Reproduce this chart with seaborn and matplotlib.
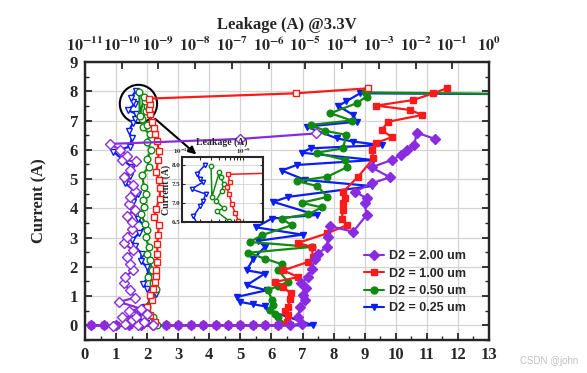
import matplotlib
matplotlib.use("Agg")
import matplotlib.pyplot as plt
import seaborn as sns
import numpy as np
from matplotlib.patches import Ellipse
from matplotlib.lines import Line2D
from matplotlib.ticker import MultipleLocator, LogLocator, NullFormatter

# ---- data -------------------------------------------------------------
# baseline sweep points (voltage, current ~0) shared by the devices
base_v = [0.2, 0.6, 1.0, 1.4, 1.8, 2.2, 2.6, 3.0, 3.4, 3.8, 4.2, 4.6, 5.0, 5.4, 5.8, 6.2]
base_i = [0.0, 0.0, 0.0, 0.0, 0.0, 0.0, 0.0, 0.0, 0.0, 0.0, 0.0, 0.0, 0.0, 0.0, 0.0, 0.0]

# I-V (bottom axis, filled markers)
purple_v = base_v + [6.6, 6.97, 6.86, 6.92, 7.08, 7.02, 7.12, 6.95, 7.19, 7.29, 7.40, 7.50, 7.78, 7.83,
                     7.88, 8.63, 9.06, 9.00, 9.06, 8.69, 9.22, 9.81, 9.22, 9.87, 10.17, 10.37, 10.60,
                     10.67, 11.26]
purple_i = base_i + [0.0, 0.06, 0.28, 0.63, 0.86, 1.05, 1.26, 1.45, 1.65, 1.94, 2.28, 2.45, 2.68, 3.02,
                     3.39, 3.20, 3.77, 4.17, 4.34, 4.57, 4.85, 5.06, 5.40, 5.65, 5.82, 5.99, 6.16,
                     6.59, 6.37]

red_v = base_v + [6.49, 6.52, 6.45, 6.54, 6.60, 6.62, 6.37, 6.11, 6.86, 6.38, 7.19, 7.34, 7.29, 6.86,
                  7.78, 8.42, 8.26, 8.31, 8.31, 8.37, 8.31, 8.79, 9.28, 9.22, 9.38, 9.87, 9.55, 9.76,
                  10.86, 10.46, 9.38, 10.56, 11.21, 11.64]
red_i = base_i + [0.10, 0.35, 0.50, 0.63, 0.90, 1.09, 1.31, 1.48, 1.65, 1.88, 2.17, 2.34, 2.68, 2.82,
                  3.14, 3.42, 3.65, 3.94, 4.17, 4.35, 4.57, 5.08, 5.71, 5.99, 6.24, 6.43, 6.68, 6.96,
                  7.19, 7.36, 7.51, 7.70, 7.93, 8.10]

green_v = base_v + [6.27, 6.22, 6.10, 5.95, 6.05, 6.01, 5.90, 6.20, 6.54, 6.22, 6.33, 5.79, 5.25, 7.29,
                    5.31, 5.69, 6.65, 6.33, 7.19, 7.62, 6.97, 7.80, 7.48, 6.81, 7.80, 8.42, 8.37, 7.45,
                    8.31, 8.40, 7.72, 7.26, 8.58, 7.90, 8.74, 9.06, 9.01, 14.0]
green_i = base_i + [0.07, 0.28, 0.40, 0.51, 0.70, 0.86, 1.20, 1.35, 1.48, 1.88, 2.09, 2.28, 2.48, 2.68,
                    2.85, 3.08, 3.42, 3.65, 3.80, 4.03, 4.19, 4.39, 4.76, 4.93, 5.08, 5.40, 5.65, 5.90,
                    6.05, 6.51, 6.65, 6.85, 7.00, 7.25, 7.59, 7.82, 7.96, 7.90]

blue_v = base_v + [6.6, 7.0, 7.35, 5.90, 5.79, 5.42, 4.99, 4.88, 5.85, 5.20, 5.79, 5.20, 5.42, 5.79,
                   5.58, 7.00, 5.50, 6.01, 7.45, 6.06, 6.54, 9.22, 7.08, 6.33, 6.81, 9.28, 6.97, 7.26,
                   9.55, 8.63, 8.10, 7.13, 8.74, 8.63, 8.15, 8.40, 8.85, 14.0]
blue_i = base_i + [0.0, 0.0, 0.0, 0.51, 0.65, 0.72, 0.80, 0.97, 1.20, 1.37, 1.77, 1.88, 2.28, 2.68,
                   2.89, 3.10, 3.35, 3.65, 3.77, 4.22, 4.39, 4.76, 4.97, 5.29, 5.48, 5.65, 5.90, 6.05,
                   6.16, 6.28, 6.39, 6.79, 6.96, 7.19, 7.50, 7.65, 7.93, 7.90]

# leakage @3.3V after each pulse (top log axis, open markers)
purple_leak_i = [-0.02, 0.05, 0.00, 0.02, 0.12, 0.18, 0.30, 0.28, 0.40, 0.50, 0.57, 0.80, 0.95, 1.20,
                 1.45, 1.65, 1.90, 2.11, 2.35, 2.57, 2.80, 3.02, 3.30, 3.54, 3.75, 3.94, 4.15, 4.39,
                 4.60, 4.80, 5.08, 5.30, 5.60, 5.65, 5.80, 6.00, 6.20, 6.37, 6.56]
purple_leak_a = [5.9e-11, 1.26e-10, 2.74e-10, 7.27e-10, 4.05e-10, 1.86e-10, 1.03e-10, 2.49e-10, 4.92e-10,
                 1.53e-10, 3.33e-10, 8.5e-11, 2.26e-10, 1.69e-10, 1.14e-10, 1.26e-10, 2.05e-10, 1.69e-10,
                 1.39e-10, 2.05e-10, 1.14e-10, 1.39e-10, 1.86e-10, 1.86e-10, 1.39e-10, 2.26e-10, 1.53e-10,
                 1.69e-10, 2.26e-10, 2.05e-10, 1.14e-10, 1.69e-10, 2.49e-10, 1.03e-10, 1.39e-10, 8.9e-11,
                 4.75e-11, 1.66e-7, 2.0e-5]

red_leak_i = [0.11, 0.35, 0.63, 0.85, 1.03, 1.25, 1.48, 1.68, 1.88, 2.17, 2.45, 2.79, 3.08, 3.42, 3.70,
              3.98, 4.33, 4.68, 4.96, 5.25, 5.65, 5.95, 6.30, 6.53, 6.73, 6.96, 7.23, 7.41, 7.55, 7.75,
              7.93, 8.10]
red_leak_a = [8.0e-10, 6.0e-10, 4.9e-10, 6.6e-10, 6.0e-10, 7.3e-10, 8.0e-10, 8.8e-10, 8.5e-10, 9.3e-10,
              9.3e-10, 9.3e-10, 9.7e-10, 1.03e-9, 7.8e-10, 8.5e-10, 1.09e-9, 1.09e-9, 1.03e-9, 8.8e-10,
              9.7e-10, 1.03e-9, 9.2e-10, 8.3e-10, 7.4e-10, 6.5e-10, 5.9e-10, 5.4e-10, 6.0e-10, 5.7e-10,
              5.5e-6, 5.0e-4]

green_leak_i = [0.00, 0.30, 0.63, 0.97, 1.25, 1.45, 1.65, 1.90, 2.22, 2.45, 2.68, 3.02, 3.25, 3.48, 3.82,
                4.05, 4.27, 4.50, 4.73, 5.13, 5.42, 5.70, 5.99, 6.25, 6.53, 6.77, 6.86, 7.05, 7.32, 7.50,
                7.68, 7.82, 7.15, 7.97]
green_leak_a = [9.3e-10, 7.3e-10, 4.9e-10, 6.4e-10, 8.8e-10, 7.3e-10, 5.3e-10, 6.6e-10, 6.0e-10, 4.9e-10,
                5.4e-10, 4.5e-10, 4.9e-10, 4.3e-10, 3.3e-10, 4.05e-10, 3.7e-10, 4.5e-10, 4.05e-10, 3.6e-10,
                5.4e-10, 4.9e-10, 6.4e-10, 4.9e-10, 5.8e-10, 3.7e-10, 4.8e-10, 3.6e-10, 4.5e-10, 4.8e-10,
                4.3e-10, 4.1e-10, 3.1e-10, 3.0e-10]

blue_leak_i = [0.07, 0.30, 0.63, 0.85, 1.08, 1.25, 1.42, 1.70, 1.99, 2.20, 2.45, 2.70, 2.90, 3.15, 3.37,
               3.65, 3.94, 4.20, 4.50, 4.85, 5.10, 5.42, 5.65, 5.94, 6.11, 6.40, 6.64, 6.91, 7.05, 7.23,
               7.36, 7.55, 7.64, 7.77, 8.00]
blue_leak_a = [4.5e-10, 2.7e-10, 4.3e-10, 6.0e-10, 8.8e-10, 4.9e-10, 3.9e-10, 5.4e-10, 4.9e-10, 3.3e-10,
               3.5e-10, 2.3e-10, 1.86e-10, 3.0e-10, 4.3e-10, 2.7e-10, 1.86e-10, 2.05e-10, 2.8e-10, 1.26e-10,
               1.69e-10, 1.86e-10, 1.1e-10, 5.9e-11, 1.69e-10, 1.86e-10, 1.55e-10, 2.0e-10, 2.24e-10, 2.45e-10,
               1.45e-10, 2.24e-10, 2.0e-10, 1.78e-10, 2.4e-10]

labels = ["D2 = 2.00 um", "D2 = 1.00 um", "D2 = 0.50 um", "D2 = 0.25 um"]
colors = ["#8A2BE2", "#FF1A1A", "#108A10", "#0A1EF5"]
markers = ["D", "s", "o", "v"]
top_exps = [-11, -10, -9, -8, -7, -6, -5, -4, -3, -2, -1, 0]

# ---- style ------------------------------------------------------------
sns.set_style("ticks")
plt.rcParams["font.family"] = ["Liberation Serif", "DejaVu Serif"]
plt.rcParams["font.weight"] = "bold"
plt.rcParams["axes.labelweight"] = "bold"
plt.rcParams["mathtext.fontset"] = "stix"
plt.rcParams["axes.linewidth"] = 1.6

fig = plt.figure(figsize=(5.87, 3.73), dpi=100)
ax = fig.add_axes([0.1448, 0.0885, 0.833 - 0.1448, 0.8338 - 0.0885])
ax2 = ax.twiny()
ax2.set_xscale("log")


def draw(axis, x, y, color, marker, filled, ms=4.8, lw=1.6):
    sns.lineplot(x=x, y=y, sort=False, estimator=None, color=color, marker=marker,
                 markersize=ms, mec=color, mfc=color if filled else "white", mew=1.0,
                 lw=lw, ax=axis, legend=False)


iv = [(purple_v, purple_i), (red_v, red_i), (green_v, green_i), (blue_v, blue_i)]
lk = [(purple_leak_a, purple_leak_i), (red_leak_a, red_leak_i),
      (green_leak_a, green_leak_i), (blue_leak_a, blue_leak_i)]

for k in [3, 2, 1, 0]:
    draw(ax, iv[k][0], iv[k][1], colors[k], markers[k], True)
for k in [3, 2, 1, 0]:
    draw(ax2, lk[k][0], lk[k][1], colors[k], markers[k], False)

# bottom / left axes
ax.set_xlim(0, 13)
ax.set_ylim(-0.5, 9)
ax.xaxis.set_major_locator(MultipleLocator(1))
ax.xaxis.set_minor_locator(MultipleLocator(0.5))
ax.yaxis.set_major_locator(MultipleLocator(1))
ax.yaxis.set_minor_locator(MultipleLocator(0.5))
ax.grid(True, color="#D4D4D4", lw=0.9)
ax.set_axisbelow(True)
ax.tick_params(which="both", direction="in", top=False, right=True, labelsize=12, pad=5)
ax.tick_params(which="major", length=5, width=1.3)
ax.tick_params(which="minor", length=3, width=1.0)
ax.set_ylabel("Current (A)", fontsize=12, labelpad=16)
ax.set_xlabel("")

# top log axis
ax2.set_xlim(1e-11, 1)
ax2.xaxis.set_major_locator(LogLocator(base=10, numticks=20))
ax2.xaxis.set_minor_locator(LogLocator(base=10, subs="auto", numticks=20))
ax2.xaxis.set_minor_formatter(NullFormatter())
ax2.set_xticks([10.0 ** e for e in top_exps])
ax2.set_xticklabels([r"$\mathbf{10^{%d}}$" % e for e in top_exps])
ax2.tick_params(which="both", direction="in", labelsize=11.5, pad=5)
ax2.tick_params(which="major", length=5, width=1.3)
ax2.tick_params(which="minor", length=2.5, width=0.8)
ax2.set_xlabel("Leakage (A) @3.3V", fontsize=12, labelpad=5)
ax2.grid(False)

# circle + arrow pointing to the inset
ax.add_patch(Ellipse((1.72, 7.57), 1.2, 1.3, fill=False, ec="black", lw=1.5, zorder=6))
ax.annotate("", xy=(3.65, 5.78), xytext=(2.19, 7.12),
            arrowprops=dict(arrowstyle="-|>", color="black", lw=1.5, mutation_scale=11), zorder=6)

# legend
handles = [Line2D([0], [0], color=colors[k], marker=markers[k], mfc=colors[k], mec=colors[k],
                  ms=5, lw=1.5) for k in range(4)]
ax.legend(handles, labels, loc="upper left", bbox_to_anchor=(0.69, 0.322), frameon=False,
          prop={"family": "Liberation Sans", "weight": "bold", "size": 9}, handlelength=1.6,
          handletextpad=0.4, labelspacing=0.42, borderpad=0, borderaxespad=0)

# inset
axin = fig.add_axes([0.3095, 0.4056, 0.138, 0.1727])
axin.set_xscale("log")
for k in [3, 2, 1, 0]:
    draw(axin, lk[k][0], lk[k][1], colors[k], markers[k], False, ms=3.2, lw=1.1)
axin.set_xlim(1e-10, 2.07e-9)
axin.set_ylim(6.5, 8.2)
axin.set_yticks([6.5, 7.0, 7.5, 8.0])
axin.set_yticklabels(["6.5", "7.0", "7.5", "8.0"])
axin.xaxis.tick_top()
axin.xaxis.set_label_position("top")
axin.set_xticks([1e-10, 1e-9])
axin.set_xticklabels([r"$\mathbf{10^{-10}}$", r"$\mathbf{10^{-9}}$"])
axin.xaxis.set_minor_formatter(NullFormatter())
axin.tick_params(which="both", direction="in", labelsize=5, pad=1.2, right=True, bottom=True,
                 length=2, width=0.8)
axin.grid(True, color="#D4D4D4", lw=0.6)
axin.set_axisbelow(True)
for s in axin.spines.values():
    s.set_linewidth(1.5)
axin.set_xlabel("Leakage (A)", fontsize=7, labelpad=1)
axin.set_ylabel("Current (A)", fontsize=7, labelpad=0.5)

fig.text(0.985, 0.018, "CSDN @john", ha="right", va="bottom", color="#C0C0C0", fontsize=7,
         family="Liberation Sans", weight="normal")

fig.savefig("out.png", dpi=100)
